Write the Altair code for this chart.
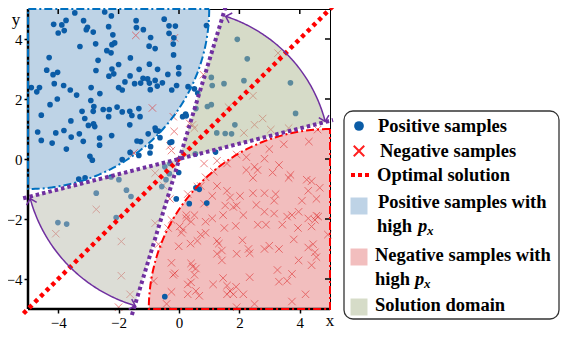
import altair as alt
import numpy as np
import pandas as pd

# ---------------- values ----------------
TICKS = [-4, -2, 0, 2, 4]

POS = [
    (-3.45, 4.87), (-2.46, 4.90), (-2.24, 4.77), (-4.15, 4.49), (-3.88, 4.47), (-3.74, 4.62),
    (-4.00, 4.20), (-3.80, 4.28), (-3.16, 4.61), (-3.07, 4.31), (-3.03, 4.39), (-2.84, 4.23),
    (-1.42, 4.61), (-1.41, 4.38), (-1.18, 4.31), (-0.49, 4.66), (-0.33, 4.44), (-0.12, 4.43),
    (-0.33, 4.19), (-2.33, 4.41), (-2.19, 4.14), (-2.22, 3.81), (-2.13, 3.87), (-2.39, 3.61),
    (-2.25, 3.54), (-3.28, 3.75), (-2.76, 3.84), (-0.94, 4.05), (-0.99, 3.76), (-0.79, 3.68),
    (-0.17, 4.04), (-0.19, 3.83), (-4.30, 3.38), (-2.68, 3.29), (-2.00, 3.15), (-1.61, 3.37),
    (-1.32, 2.99), (-0.98, 3.16), (-0.71, 2.99), (-0.18, 3.47), (-0.01, 3.05), (-0.01, 2.84),
    (-0.37, 2.82), (-4.38, 2.96), (-4.17, 2.81), (-4.02, 2.89), (-2.75, 2.95), (-2.22, 3.00),
    (-2.16, 2.84), (-2.32, 2.76), (-1.62, 2.77), (-1.27, 2.53), (-1.19, 2.69), (-1.04, 2.67),
    (-0.98, 2.53), (-0.79, 2.62), (-0.72, 2.43), (-0.95, 2.31), (-1.47, 2.51), (-1.79, 2.57),
    (-2.00, 2.38), (-1.88, 2.30), (-0.55, 2.54), (-0.08, 2.45), (-0.24, 2.30), (-4.89, 2.38),
    (-4.71, 2.24), (-4.62, 2.38), (-4.13, 2.51), (-3.82, 2.45), (-3.60, 2.30), (-3.39, 2.13),
    (-2.91, 2.38), (-2.62, 2.18), (-4.03, 2.00), (-4.27, 1.81), (-4.56, 1.46), (-4.68, 0.90),
    (-4.56, 0.62), (-4.08, 0.87), (-4.20, 0.53), (-3.73, 0.33), (-3.81, 0.95), (-3.58, 1.27),
    (-3.21, 1.59), (-3.12, 1.35), (-2.84, 1.59), (-2.92, 1.95), (-3.00, 1.12), (-2.83, 1.17),
    (-2.79, 1.08), (-2.82, 1.75), (-2.51, 1.65), (-2.31, 1.65), (-2.33, 1.41), (-2.05, 1.73),
    (-1.88, 1.57), (-1.63, 1.59), (-1.56, 1.45), (-1.33, 1.68), (-1.29, 1.41), (-1.63, 1.14),
    (-1.02, 0.84), (-0.77, 0.95), (-0.63, 0.71), (-1.27, 0.58), (-1.39, 0.60), (-2.23, 0.78),
    (-2.63, 0.70), (-2.63, 0.46), (-3.17, 0.59), (-3.30, 0.84), (-3.57, 0.73), (-2.95, 0.09),
    (-2.87, -0.04), (-1.88, -0.02), (-1.62, 0.22), (-1.33, 0.12), (-0.96, 0.20), (-0.94, 0.41),
    (0.12, 1.41), (0.22, 1.50), (0.30, 2.41), (0.51, 2.34), (0.62, 2.20), (0.91, 4.45),
    (0.56, 1.68), (0.24, 1.44), (-0.24, 0.57), (-0.79, 1.03), (-0.68, 0.93), (-0.30, 0.55),
    (1.93, 3.99), (2.26, 3.34), (1.49, 2.51), (2.15, 2.61), (3.69, 2.54), (3.86, 1.52),
    (1.07, 2.72), (1.10, 2.45), (0.94, 1.75), (1.07, 1.81), (1.85, 1.14), (1.25, 0.87),
    (1.53, 0.85), (1.74, 0.84), (0.54, 0.17), (1.21, 0.23),
    (-4.01, -2.12), (-3.72, -2.17), (-2.74, -1.14), (-2.08, -1.95), (-1.99, -0.69), (-1.74, -1.04),
    (-1.59, -1.25), (-3.32, -0.67), (-3.11, -0.63), (-2.25, -0.60), (-0.57, -0.92), (-0.43, -0.69),
    (-0.32, -0.49), (-0.47, -0.26), (-0.30, -0.15), (-0.01, -0.45), (-0.09, -1.33), (0.34, -1.49),
    (0.67, -1.01), (0.56, -0.96), (0.92, -1.47), (-0.47, -4.59),
]

NEG = [
    (2.50, 1.14), (2.15, 0.87), (3.04, 0.98), (3.63, 1.03), (4.59, 0.98), (4.30, 0.58),
    (3.47, 0.49), (2.99, 0.33), (1.91, 0.15), (2.23, 0.06), (0.83, -0.15), (1.26, -0.06),
    (1.59, -0.15), (2.83, 0.01), (3.31, -0.20), (2.50, -0.26), (2.23, -0.37), (2.60, -0.37),
    (2.45, -0.63), (3.10, -0.45), (3.69, -0.53), (3.63, -0.63), (4.23, -0.69), (4.39, -0.74),
    (4.28, -1.06), (4.66, -0.96), (1.15, -0.42), (0.88, -0.61), (1.26, -0.90), (0.72, -0.90),
    (1.59, -1.06), (2.02, -1.23), (1.69, -1.28), (2.45, -1.14), (2.83, -1.14), (3.20, -1.17),
    (2.56, -1.53), (3.15, -1.39), (4.07, -1.39), (4.55, -1.33), (1.53, -1.55), (1.80, -1.60),
    (3.74, -1.87), (3.96, -1.76), (4.55, -1.89), (1.10, -1.23), (0.29, -1.17), (0.24, -1.87),
    (0.51, -1.87), (0.61, -0.92), (0.83, -1.49),
    (-0.25, 0.28), (-0.30, 0.44), (0.45, 1.14), (-0.16, 0.92), (-0.79, -0.47),
    (-0.79, -2.14), (-0.25, -2.03), (0.02, -2.25), (0.13, -2.35), (0.24, -1.98), (0.40, -2.09),
    (0.88, -2.09), (1.10, -1.98), (1.50, -2.30), (1.88, -2.23), (2.61, -2.19), (2.88, -2.19),
    (3.42, -2.19), (3.94, -2.30), (4.39, -2.25), (4.50, -2.03), (4.61, -1.92), (4.93, -2.52),
    (0.88, -2.46), (0.61, -2.73), (0.38, -2.82), (-0.01, -2.91), (-0.68, -2.84), (2.10, -2.71),
    (1.32, -2.82), (1.42, -3.05), (1.26, -3.16), (1.91, -3.16), (2.30, -3.00), (2.34, -3.14),
    (2.83, -3.00), (2.99, -2.89), (3.80, -2.68), (4.44, -2.84), (4.50, -3.11), (4.55, -3.27),
    (3.96, -3.38), (4.39, -3.54), (1.42, -3.38), (-0.25, -3.46), (0.40, -3.48), (0.45, -3.59),
    (0.56, -3.65), (0.51, -3.86), (-0.19, -3.86), (2.34, -3.94), (3.26, -3.70), (3.74, -3.83),
    (3.31, -4.09), (3.58, -4.06), (0.40, -4.11), (1.46, -3.97), (1.13, -4.18), (1.59, -4.22),
    (1.89, -4.26), (2.13, -4.51), (1.59, -4.51), (1.80, -4.51), (0.56, -4.40), (0.29, -4.51),
    (0.67, -4.56), (-0.25, -4.43), (-0.84, -4.07), (-0.41, -4.83), (2.50, -4.83), (3.74, -4.75),
    (4.19, -4.51), (1.91, -4.94),
    (1.46, -1.87), (2.13, -1.87), (3.58, -1.92), (4.28, -1.98), (-0.36, -2.30), (0.08, -2.46),
    (0.72, -2.52), (1.26, -2.73), (3.31, -3.00), (4.28, -2.95), (-0.14, -3.81), (0.29, -4.18),
    (1.69, -4.40), (2.83, -1.76), (3.15, -1.82), (1.91, -1.55),
    (-1.43, 4.12), (-0.15, 4.04), (-0.88, 1.70), (-1.49, 0.20), (-0.19, 1.41), (3.28, 3.53),
    (2.45, 2.11), (1.64, 1.73), (2.77, 1.35), (0.81, 2.81), (0.35, 1.19), (0.51, 1.03),
    (-4.08, -2.49), (-2.74, -1.68), (-1.91, -2.75), (-1.91, -3.89), (-1.62, -4.51), (-2.00, -4.94),
    (-0.52, -0.88), (-0.30, -1.33),
]

# region geometry
BLUE_CENTER, BLUE_R = (-5.0, 5.0), 6.0
RED_CENTER, RED_R = (5.0, -5.0), 6.0
SLOPE_A, SLOPE_B = 0.254, 3.31          # purple dotted boundary lines through the origin
UP_R, LOW_R = 5.0, 5.1                   # radii of the solution-domain wedges
UP_ARC = (72.0, 14.5)                    # arrow arc angles (deg)
LOW_ARC = (195.0, 253.5)
LINE_A = [(-5.16, -1.31), (5.10, 1.30)]
LINE_B = [(-1.56, -5.20), (1.59, 5.23)]
OPT_LINE = [(-5.15, -5.15), (5.15, 5.15)]

# ---------------- layout ----------------
W, H = 302, 300
xs_ = alt.Scale(domain=[-5, 5], nice=False, zero=False)
ys_ = alt.Scale(domain=[-5, 5], nice=False, zero=False)
AX = dict(values=TICKS, grid=False, title=None, domain=False, tickColor="black", tickWidth=1.5,
          tickSize=4, labelFont="Liberation Serif", labelFontSize=15, labelColor="black",
          labelPadding=2)


def X(f):
    return alt.X(f, type="quantitative", scale=xs_, axis=alt.Axis(**AX))


def Y(f):
    return alt.Y(f, type="quantitative", scale=ys_, axis=alt.Axis(**AX))


# ---------------- region geometry ----------------
bx = np.linspace(-5, 1, 150)
blue_df = pd.DataFrame({"x": bx, "lo": BLUE_CENTER[1] - np.sqrt(np.maximum(BLUE_R**2 - (bx - BLUE_CENTER[0])**2, 0)), "hi": 5.0})
rx = np.linspace(-1, 5, 150)
red_df = pd.DataFrame({"x": rx, "lo": -5.0, "hi": RED_CENTER[1] + np.sqrt(np.maximum(RED_R**2 - (rx - RED_CENTER[0])**2, 0))})

ta = np.radians(np.linspace(0, -90, 120))
blue_border = pd.DataFrame({
    "x": list(BLUE_CENTER[0] + BLUE_R * np.cos(ta)) + [-5, 1],
    "y": list(BLUE_CENTER[1] + BLUE_R * np.sin(ta)) + [5, 5]})
blue_border["i"] = range(len(blue_border))
tr = np.radians(np.linspace(90, 180, 120))
red_border = pd.DataFrame({
    "x": list(RED_CENTER[0] + RED_R * np.cos(tr)) + [5, 5],
    "y": list(RED_CENTER[1] + RED_R * np.sin(tr)) + [-5, 1]})
red_border["i"] = range(len(red_border))


def wedge(r, sign):
    xb = r / np.sqrt(1 + SLOPE_B**2)
    xa = r / np.sqrt(1 + SLOPE_A**2)
    x = np.concatenate([np.linspace(0, xb, 12), np.linspace(xb, xa, 80)])
    circ = np.sqrt(np.maximum(r * r - x * x, 0))
    other = np.where(x <= xb, SLOPE_B * x, circ)
    a = SLOPE_A * x
    if sign > 0:
        return pd.DataFrame({"x": x, "lo": a, "hi": other})
    return pd.DataFrame({"x": -x, "lo": -other, "hi": -a})


up_w = wedge(UP_R, 1)
low_w = wedge(LOW_R, -1)


def arc_df(r, a0, a1):
    t = np.radians(np.linspace(a0, a1, 100))
    return pd.DataFrame({"x": r * np.cos(t), "y": r * np.sin(t), "i": range(100)})


def heads(r, a0, a1):
    rows = []
    for ta_, tb_ in ((a0, a1), (a1, a0)):
        t = np.radians(ta_)
        s = np.sign(ta_ - tb_)
        dx, dy = -s * np.sin(t), s * np.cos(t)
        ang = np.degrees(np.arctan2(-dy * H, dx * W)) % 360
        rows.append({"x": r * np.cos(t), "y": r * np.sin(t), "ang": ang})
    return rows


arcs = pd.concat([arc_df(UP_R, *UP_ARC).assign(k="u"), arc_df(LOW_R, *LOW_ARC).assign(k="l")])
head_df = pd.DataFrame(heads(UP_R, *UP_ARC) + heads(LOW_R, *LOW_ARC))

purple_df = pd.DataFrame({"x": [p[0] for p in LINE_A + LINE_B], "y": [p[1] for p in LINE_A + LINE_B],
                          "k": ["a", "a", "b", "b"]})
opt_df = pd.DataFrame({"x": [p[0] for p in OPT_LINE], "y": [p[1] for p in OPT_LINE]})
pos_df = pd.DataFrame(POS, columns=["x", "y"])
neg_df = pd.DataFrame(NEG, columns=["x", "y"])
tick_df = pd.DataFrame({"t": TICKS})

XPATH = "M-1,-1L1,1M-1,1L1,-1"
CHEV = "M-1,-1L0,0L-1,1"
PURPLE = "#7030a0"

layers = [
    alt.Chart(blue_df).mark_area(color="#bed3e6").encode(x=X("x"), y=Y("lo"), y2="hi"),
    alt.Chart(red_df).mark_area(color="#f2bebe").encode(x=X("x"), y=Y("lo"), y2="hi"),
    alt.Chart(neg_df).mark_point(shape=XPATH, filled=False, color="#e03030", strokeWidth=1, size=55, opacity=0.6)
        .encode(x=X("x"), y=Y("y")),
    alt.Chart(pos_df).mark_circle(color="#0b5ca6", size=32, opacity=1).encode(x=X("x"), y=Y("y")),
    alt.Chart(up_w).mark_area(color="#adb791", opacity=0.5).encode(x=X("x"), y=Y("lo"), y2="hi"),
    alt.Chart(low_w).mark_area(color="#b9bbad", opacity=0.5).encode(x=X("x"), y=Y("lo"), y2="hi"),
    # axis lines (left / bottom)
    alt.Chart(tick_df.head(1)).mark_rule(color="black", strokeWidth=2.5)
        .encode(x=alt.value(0), y=alt.value(0), y2=alt.value(H)),
    alt.Chart(tick_df.head(1)).mark_rule(color="black", strokeWidth=2.5)
        .encode(x=alt.value(0), x2=alt.value(W), y=alt.value(H)),
    # inner ticks top / right
    alt.Chart(tick_df).mark_rule(color="black", strokeWidth=1.5)
        .encode(x=X("t"), y=alt.value(0), y2=alt.value(5)),
    alt.Chart(tick_df).mark_rule(color="black", strokeWidth=1.5)
        .encode(y=Y("t"), x=alt.value(W), x2=alt.value(W - 5)),
    alt.Chart(blue_border).mark_line(color="#0070c0", strokeWidth=2, strokeDash=[8, 3, 2, 3])
        .encode(x=X("x"), y=Y("y"), order="i:Q"),
    alt.Chart(red_border).mark_line(color="#ff0000", strokeWidth=2, strokeDash=[8, 3, 2, 3])
        .encode(x=X("x"), y=Y("y"), order="i:Q"),
    alt.Chart(opt_df).mark_line(color="#ff0000", strokeWidth=4.5, strokeDash=[4, 4])
        .encode(x=X("x"), y=Y("y")),
    alt.Chart(purple_df).mark_line(color=PURPLE, strokeWidth=4, strokeDash=[3.5, 3])
        .encode(x=X("x"), y=Y("y"), detail="k:N"),
    alt.Chart(arcs).mark_line(color=PURPLE, strokeWidth=1.5)
        .encode(x=X("x"), y=Y("y"), detail="k:N", order="i:Q"),
    alt.Chart(head_df).mark_point(shape=CHEV, filled=False, color=PURPLE, strokeWidth=1.5, size=110, opacity=1)
        .encode(x=X("x"), y=Y("y"), angle=alt.Angle("ang:Q", scale=None)),
]

dummy = pd.DataFrame({"d": [0]})


def txt(s, x, y, size=18.5, style="normal", weight="bold"):
    return alt.Chart(dummy).mark_text(text=s, align="left", baseline="middle", font="Liberation Serif",
                                      fontSize=size, fontStyle=style, fontWeight=weight, color="black") \
        .encode(x=alt.value(x), y=alt.value(y))


# axis titles
layers += [
    alt.Chart(dummy).mark_text(text="y", font="Liberation Serif", fontSize=17, color="black", baseline="middle",
                               align="center").encode(x=alt.value(-12), y=alt.value(11)),
    alt.Chart(dummy).mark_text(text="x", font="Liberation Serif", fontSize=17, color="black", baseline="middle",
                               align="center").encode(x=alt.value(W), y=alt.value(H + 12)),
]

# legend (hand-built box)
LX = 316
layers += [
    alt.Chart(dummy).mark_rect(fill="white", stroke="#333333", strokeWidth=1.3, cornerRadius=9)
        .encode(x=alt.value(LX), x2=alt.value(LX + 215), y=alt.value(102), y2=alt.value(310)),
    alt.Chart(dummy).mark_point(shape="circle", filled=True, color="#0b5ca6", size=95, opacity=1)
        .encode(x=alt.value(LX + 15), y=alt.value(117)),
    alt.Chart(dummy).mark_point(shape=XPATH, filled=False, color="#ff2020", strokeWidth=2, size=110, opacity=1)
        .encode(x=alt.value(LX + 15), y=alt.value(142)),
    alt.Chart(dummy).mark_rule(color="#ff0000", strokeWidth=4, strokeDash=[4, 3])
        .encode(x=alt.value(LX + 7), x2=alt.value(LX + 27), y=alt.value(166)),
    alt.Chart(dummy).mark_point(shape="square", filled=True, color="#bed3e6", size=289, opacity=1)
        .encode(x=alt.value(LX + 15), y=alt.value(197)),
    alt.Chart(dummy).mark_point(shape="square", filled=True, color="#f2bebe", size=289, opacity=1)
        .encode(x=alt.value(LX + 15), y=alt.value(248)),
    alt.Chart(dummy).mark_point(shape="square", filled=True, color="#d6dcc8", size=289, opacity=1)
        .encode(x=alt.value(LX + 15), y=alt.value(298)),
    txt("Positive samples", LX + 34, 117),
    txt("Negative samples", LX + 36, 142),
    txt("Optimal solution", LX + 33, 166),
    txt("Positive samples with", LX + 34, 193),
    txt("high", LX + 33, 217),
    txt("p", LX + 74, 217, style="italic"),
    txt("x", LX + 83, 222, size=13, style="italic"),
    txt("Negative samples with", LX + 31, 246),
    txt("high", LX + 31, 270),
    txt("p", LX + 71, 270, style="italic"),
    txt("x", LX + 80, 275, size=13, style="italic"),
    txt("Solution domain", LX + 31, 296),
]

chart = alt.layer(*layers).properties(
    width=W, height=H,
    autosize=alt.AutoSizeParams(type="none"),
    padding={"left": 20, "top": 1, "right": 552 - 20 - W, "bottom": 22},
).configure_view(stroke="black", strokeWidth=1)

chart.save("out.html", embed_options={"renderer": "svg", "actions": False})
